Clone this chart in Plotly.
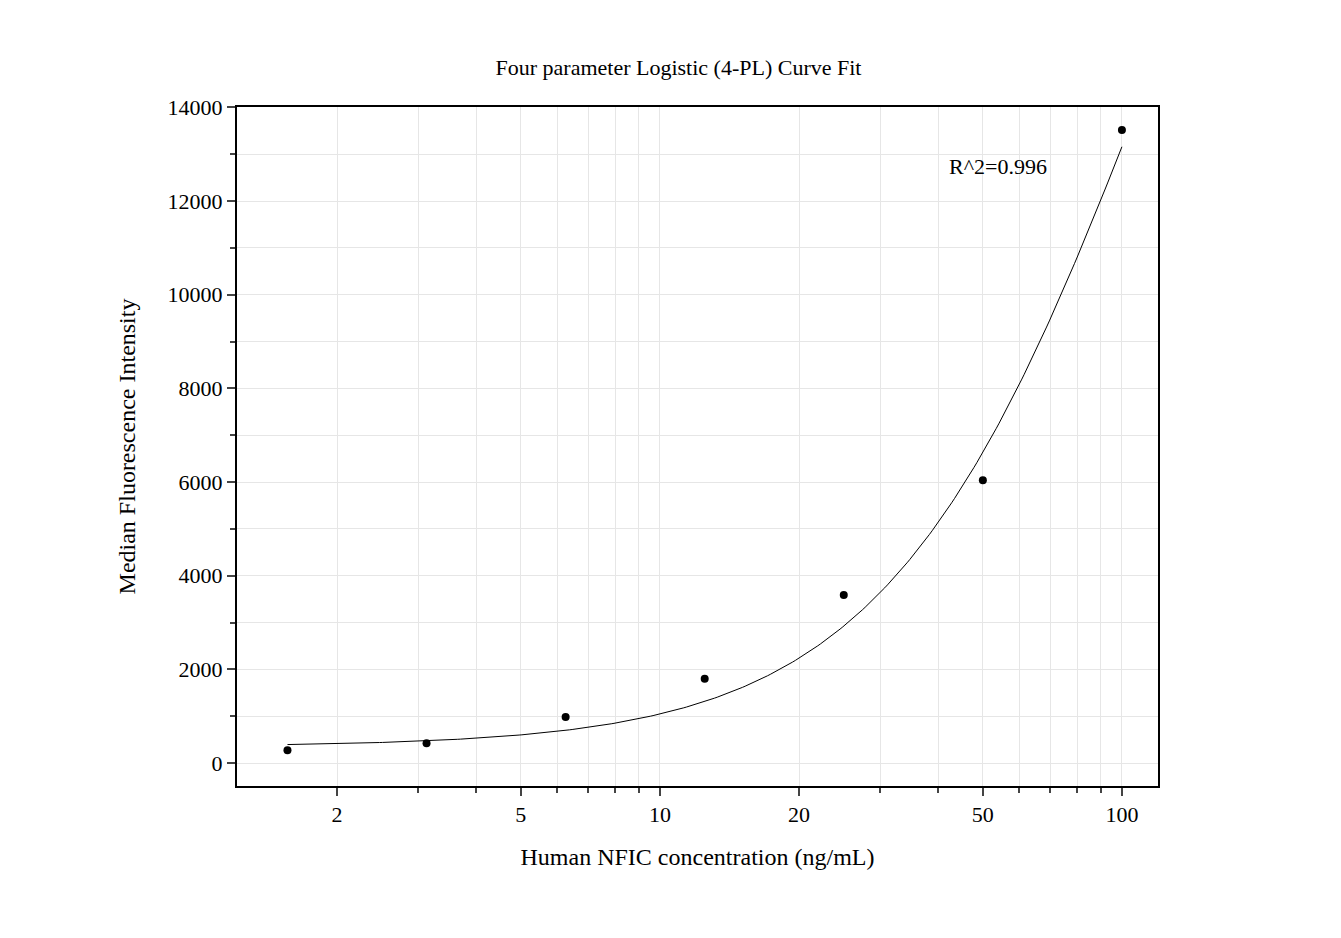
import numpy as np
import plotly.graph_objects as go

conc = [1.5625, 3.125, 6.25, 12.5, 25, 50, 100]
mfi = [270, 420, 980, 1800, 3590, 6040, 13520]
# 4PL parameters (estimated from drawn curve)
A, B, C, D = 350, 1.5, 120, 30000
xt = [2, 5, 10, 20, 50, 100]
xlabels = ["2", "5", "10", "20", "50", "100"]
yt = list(range(0, 14001, 2000))
ylabels = [str(v) for v in yt]

xc = np.logspace(np.log10(conc[0]), np.log10(conc[-1]), 300)
yc = D + (A - D) / (1 + (xc / C) ** B)

fig = go.Figure()
fig.add_trace(go.Scatter(x=xc, y=yc, mode="lines", line=dict(color="black", width=1), showlegend=False))
fig.add_trace(go.Scatter(x=conc, y=mfi, mode="markers", marker=dict(color="black", size=8), showlegend=False))

minor_vals = [v * m for m in (1, 10, 100) for v in range(1, 10) if 1.2 < v * m < 120]
font = "Liberation Serif"
fig.update_layout(
    width=1341, height=938, plot_bgcolor="white", paper_bgcolor="white",
    margin=dict(l=229, r=191, t=99, b=160),
    font=dict(family=font, color="black", size=22),
    title=dict(text="Four parameter Logistic (4-PL) Curve Fit", x=0.5, xanchor="center", y=0.937, yanchor="middle",
               font=dict(size=22)),
    annotations=[dict(x=np.log10(53.9), y=12730, text="R^2=0.996", showarrow=False, font=dict(size=22))],
)
fig.update_xaxes(type="log", range=[np.log10(1.215), np.log10(119.7)],
                 tickvals=xt, ticktext=xlabels, ticks="outside", ticklen=8, tickwidth=1.5,
                 showline=True, linecolor="black", linewidth=2, mirror=True,
                 showgrid=True, gridcolor="#e6e6e6",
                 minor=dict(tickvals=minor_vals, ticks="outside", ticklen=5, showgrid=True, gridcolor="#e6e6e6"),
                 title=dict(text="Human NFIC concentration (ng/mL)", font=dict(size=24), standoff=22))
fig.update_yaxes(range=[-491, 14010], tickvals=yt, ticktext=ylabels, ticks="outside", ticklen=8, tickwidth=1.5,
                 showline=True, linecolor="black", linewidth=2, mirror=True,
                 showgrid=True, gridcolor="#e6e6e6", zeroline=False,
                 minor=dict(dtick=1000, ticks="outside", ticklen=5, showgrid=True, gridcolor="#e6e6e6"),
                 title=dict(text="Median Fluorescence Intensity", font=dict(size=24), standoff=25))
fig.write_html("out.html")
